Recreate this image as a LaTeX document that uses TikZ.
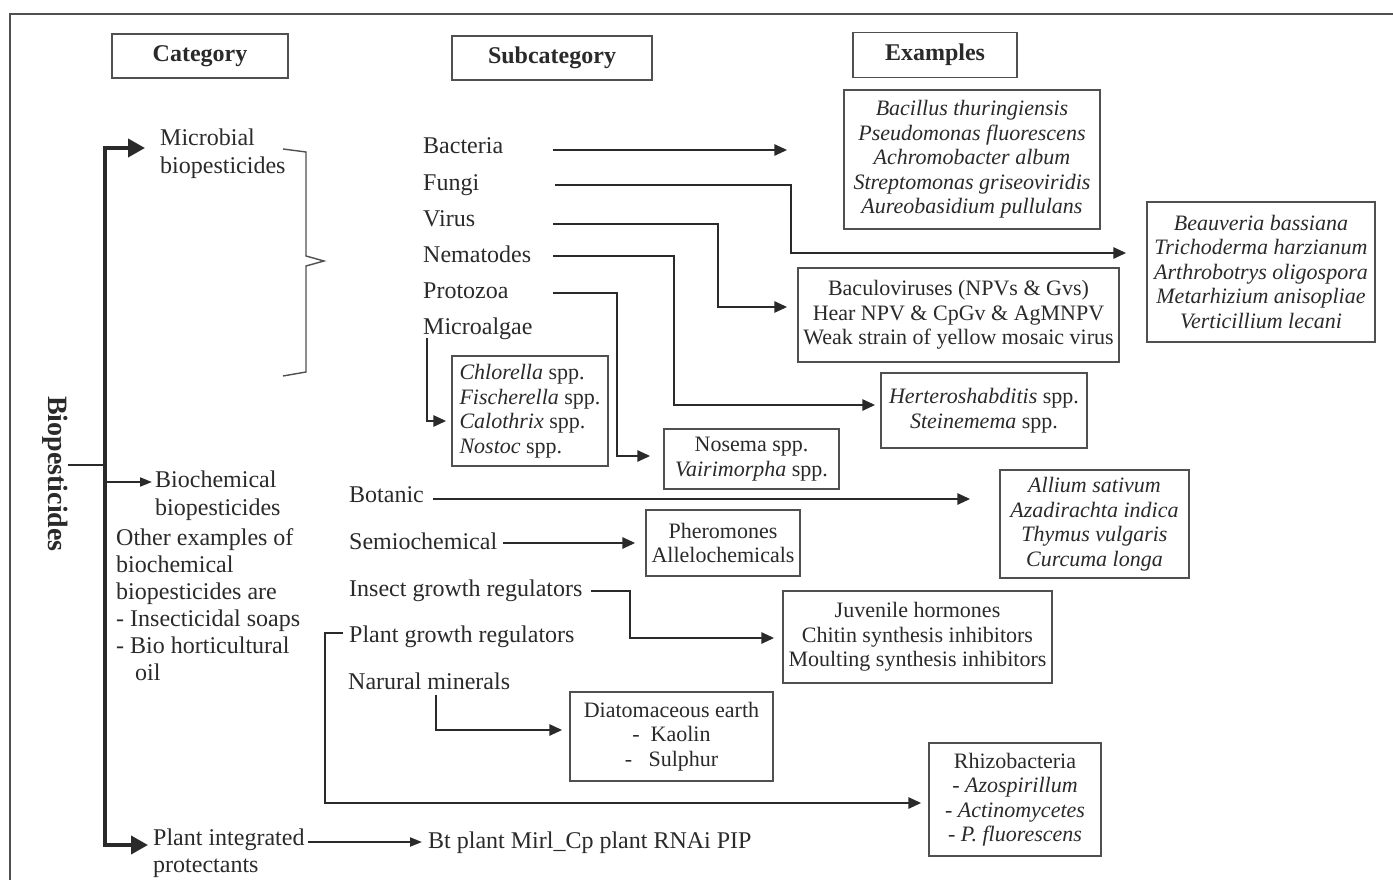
\documentclass[tikz,border=0pt]{standalone}
\usepackage{fontspec}
\setmainfont{Liberation Serif}
\usetikzlibrary{arrows.meta}
\definecolor{ink}{HTML}{2A2A2A}
\definecolor{boxc}{HTML}{505050}
\newcommand\fsz[2]{\fontsize{#1}{#2}\selectfont}
\begin{document}
\begin{tikzpicture}[x=1pt,y=-1pt,line join=miter,
 lbl/.style={anchor=west,inner sep=0pt,text=ink,font=\fsz{24}{27},text height=17pt,text depth=5pt},
 mlbl/.style={anchor=north west,inner sep=0pt,text=ink,font=\fsz{24}{27.5},align=left},
 box/.style={draw=boxc,line width=1.4pt,inner sep=0pt,text=ink,font=\fsz{22}{24.5},align=center},
 hdr/.style={box,font=\bfseries\fsz{24}{27}},
 conn/.style={draw=ink,line width=2.8pt,-{Triangle[length=13pt,width=11pt]}},
 thinconn/.style={draw=ink,line width=2pt,-{Triangle[length=12pt,width=9pt]}},
 trunk/.style={draw=ink,line width=3.8pt,-{Triangle[length=17pt,width=18pt]}},
 brk/.style={draw=boxc,line width=1.4pt},
 frame/.style={draw=boxc,line width=1.6pt}]
\useasboundingbox (0,0) rectangle (1393,880);
\fill[white] (0,0) rectangle (1393,880);
\draw[frame] (1393,14) -- (10,14) -- (10,880);

% headers
\node[hdr,minimum width=176pt,minimum height=44pt] (hcat) at (200,56) {Category};
\node[hdr,minimum width=200pt,minimum height=44pt] (hsub) at (552,58) {Subcategory};
\node[hdr,minimum width=164pt,minimum height=45pt] (hex) at (935,55) {Examples};

% root
\node[rotate=-90,inner sep=0pt,text=ink,font=\bfseries\fsz{28}{30},text height=19pt,text depth=6pt] (bio) at (55,474) {Biopesticides};
\coordinate (junc) at (105,465);
\draw[draw=ink,line width=2.2pt] (bio.north |- junc) -- (junc);

% categories
\node[mlbl] (mic) at (160,126.5) {\strut Microbial\\biopesticides};
\node[mlbl] (bchem) at (155,468.5) {\strut Biochemical\\biopesticides};
\node[mlbl,font=\fsz{24}{27}] (other) at (116,526.5) {\strut Other examples of\\biochemical\\biopesticides are\\- Insecticidal soaps\\- Bio horticultural\\\hspace*{19pt}oil};
\node[mlbl,font=\fsz{24}{27}] (pip) at (153,826.5) {\strut Plant integrated\\protectants};

\draw[trunk,shorten >=15pt] (junc) |- (mic.west |- 0,148);
\draw[trunk,shorten >=5pt] (junc) |- (pip.west |- 0,845);
\draw[thinconn,shorten >=3pt] (105,482) -- (bchem.west |- 0,482);

% bracket
\draw[brk] (283,149) -- (306,152) -- (306,256) -- (324,261) -- (306,266) -- (306,372) -- (283,376);

% microbial subcategories
\node[lbl] (bact) at (423,148) {Bacteria};
\node[lbl] (fungi) at (423,184) {Fungi};
\node[lbl] (virus) at (423,220) {Virus};
\node[lbl] (nema) at (423,256) {Nematodes};
\node[lbl] (proto) at (423,292) {Protozoa};
\node[lbl] (micro) at (423,328) {Microalgae};

% microbial examples
\node[box,minimum width=256pt,minimum height=139pt] (bacil) at (972,159.5) {\itshape Bacillus thuringiensis\\\itshape Pseudomonas fluorescens\\\itshape Achromobacter album\\\itshape Streptomonas griseoviridis\\\itshape Aureobasidium pullulans};
\node[box,minimum width=228pt,minimum height=140pt] (beau) at (1261,272) {\itshape Beauveria bassiana\\\itshape Trichoderma harzianum\\\itshape Arthrobotrys oligospora\\\itshape Metarhizium anisopliae\\\itshape Verticillium lecani};
\node[box,minimum width=321pt,minimum height=94pt] (bacu) at (958.5,315) {Baculoviruses (NPVs \& Gvs)\\Hear NPV \& CpGv \& AgMNPV\\Weak strain of yellow mosaic virus};
\node[box,minimum width=206pt,minimum height=75pt] (herter) at (984,410.5) {\textit{Herteroshabditis} spp.\\\textit{Steinemema} spp.};
\node[box,minimum width=175pt,minimum height=60pt] (nosema) at (751.5,459) {Nosema spp.\\\textit{Vairimorpha} spp.};
\node[box,minimum width=156pt,minimum height=110pt,align=left] (chlor) at (530,411) {\textit{Chlorella} spp.\\\textit{Fischerella} spp.\\\textit{Calothrix} spp.\\\textit{Nostoc} spp.};

\coordinate (sb) at (553,150);
\coordinate (sf) at (555,185);
\coordinate (sv) at (553,224);
\coordinate (sn) at (553,256);
\coordinate (sp) at (553,293);
\coordinate (sm) at (427,338);
\draw[conn,shorten >=56pt] (sb) -- (bacil.west |- sb);
\draw[conn,shorten >=20pt] (sf) -| (791,253) -- (beau.west |- 0,253);
\draw[conn,shorten >=10pt] (sv) -| (718,307) -- (bacu.west |- 0,307);
\draw[conn,shorten >=5pt] (sn) -| (674,405) -- (herter.west |- 0,405);
\draw[conn,shorten >=13pt] (sp) -| (617,456) -- (nosema.west |- 0,456);
\draw[conn,shorten >=5pt] (sm) |- (chlor.west |- 0,421);

% biochemical subcategories
\node[lbl] (bot) at (349,496) {Botanic};
\node[lbl] (semi) at (349,543) {Semiochemical};
\node[lbl] (igr) at (349,590) {Insect growth regulators};
\node[lbl] (pgr) at (349,636) {Plant growth regulators};
\node[lbl] (nm) at (348,683) {Narural minerals};

\node[box,minimum width=189pt,minimum height=108pt] (allium) at (1094.5,524) {\itshape Allium sativum\\\itshape Azadirachta indica\\\itshape Thymus vulgaris\\\itshape Curcuma longa};
\node[box,minimum width=154pt,minimum height=66pt] (pher) at (723,543) {Pheromones\\Allelochemicals};
\node[box,minimum width=269pt,minimum height=92pt] (juv) at (917.5,637) {Juvenile hormones\\Chitin synthesis inhibitors\\Moulting synthesis inhibitors};
\node[box,minimum width=203pt,minimum height=89pt] (diat) at (671.5,736.5) {Diatomaceous earth\\-\ \ Kaolin\\-\ \ \ Sulphur};
\node[box,minimum width=172pt,minimum height=113pt] (rhizo) at (1015,799.5) {Rhizobacteria\\- \textit{Azospirillum}\\- \textit{Actinomycetes}\\- \textit{P. fluorescens}};

\coordinate (sbot) at (433,499);
\coordinate (ssemi) at (503,543);
\coordinate (sigr) at (591,591);
\coordinate (spgr) at (343,633);
\coordinate (snm) at (436,695);
\draw[conn,shorten >=29pt] (sbot) -- (allium.west |- sbot);
\draw[conn,shorten >=10pt] (ssemi) -- (pher.west |- ssemi);
\draw[conn,shorten >=8pt] (sigr) -| (630,638) -- (juv.west |- 0,638);
\draw[conn,shorten >=7pt] (spgr) -| (325,803) -- (rhizo.west |- 0,803);
\draw[conn,shorten >=7pt] (snm) |- (diat.west |- 0,730);

% plant integrated protectants
\node[lbl] (bt) at (428,842) {Bt plant Mirl\_Cp plant RNAi PIP};
\coordinate (spip) at (308,842);
\draw[thinconn,shorten >=6pt] (spip) -- (bt.west);
\end{tikzpicture}
\end{document}
